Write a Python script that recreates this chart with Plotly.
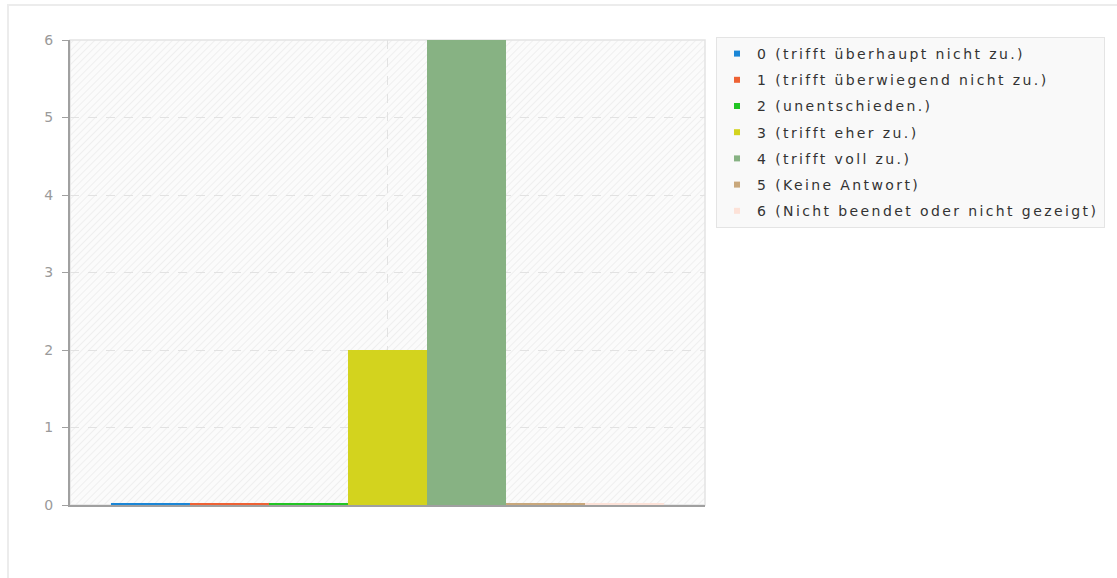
import plotly.graph_objects as go

categories = [""]
series_names = [
    "0 (trifft überhaupt nicht zu.)",
    "1 (trifft überwiegend nicht zu.)",
    "2 (unentschieden.)",
    "3 (trifft eher zu.)",
    "4 (trifft voll zu.)",
    "5 (Keine Antwort)",
    "6 (Nicht beendet oder nicht gezeigt)",
]
series_values = [0, 0, 0, 2, 6, 0, 0]
series_colors = ["#1b86d6", "#ee6234", "#22c524", "#d3d31e", "#87b283", "#c9a87c", "#fde2d8"]
y_ticks = [0, 1, 2, 3, 4, 5, 6]

fig = go.Figure()
for i, (name, val, col) in enumerate(zip(series_names, series_values, series_colors)):
    fig.add_trace(go.Bar(
        x=categories, y=[val], name=name, marker_color=col,
        marker_line_width=0, legendgroup=f"g{i}",
        hoverinfo="name+y",
    ))
# thin baseline stubs (jqPlot draws zero-height bars as a thin line)
for i, col in enumerate(series_colors):
    fig.add_trace(go.Bar(
        x=categories, y=[1], marker_color=col, marker_line_width=0,
        yaxis="y2", showlegend=False, hoverinfo="skip",
    ))

fig.update_layout(
    width=1117, height=578,
    margin=dict(l=70, r=412, t=40, b=73),
    paper_bgcolor="white",
    plot_bgcolor="#f8f8f8",
    barmode="group", bargap=0.129, bargroupgap=0,
    font=dict(family="DejaVu Sans", size=14, color="#333333"),
    showlegend=True,
    legend=dict(
        x=(716 - 70) / 635, y=1.0 + 3 / 465, xanchor="left", yanchor="top",
        bgcolor="#f9f9f9", bordercolor="#e4e4e4", borderwidth=1,
        font=dict(family="DejaVu Sans", size=13.99, color="#333333"),
        traceorder="grouped", tracegroupgap=5,
    ),
    xaxis=dict(
        showticklabels=False, ticks="",
        showgrid=True, gridcolor="#e2e2e2", griddash="dash", gridwidth=1,
        showline=True, linecolor="#a0a0a0", linewidth=2,
        layer="below traces", fixedrange=True,
    ),
    yaxis=dict(
        range=[0, 6], tickvals=y_ticks, ticktext=[str(t) for t in y_ticks],
        showgrid=True, gridcolor="#e2e2e2", griddash="dash", gridwidth=1,
        zeroline=False,
        showline=True, linecolor="#a0a0a0", linewidth=2,
        ticks="outside", ticklen=6, tickcolor="#a0a0a0", tickwidth=1,
        tickfont=dict(family="DejaVu Sans", size=14, color="#9a9a9a"),
        ticklabelstandoff=6, fixedrange=True,
    ),
    yaxis2=dict(
        overlaying="y", range=[0, 232], visible=False, fixedrange=True,
    ),
    shapes=[
        dict(type="rect", xref="paper", yref="paper", x0=0, x1=1, y0=0, y1=1,
             line=dict(color="#e3e3e3", width=1.5), fillcolor="rgba(0,0,0,0)", layer="below"),
        dict(type="rect", xref="paper", yref="paper",
             x0=(8 - 70) / 635, x1=(1130 - 70) / 635,
             y0=(505 - 590) / 465, y1=(505 - 5) / 465,
             line=dict(color="#ececec", width=2), fillcolor="rgba(0,0,0,0)", layer="below"),
    ],
)

post = """
document.body.style.margin = '0';
var st = document.createElement('style');
st.textContent = 'text.legendtext{letter-spacing:2.4px;}';
document.head.appendChild(st);
var gd = document.getElementById('{plot_id}');
function hatch(){
  var svg = gd.querySelector('svg.main-svg');
  var ns = 'http://www.w3.org/2000/svg';
  var defs = svg.querySelector('defs') || svg.insertBefore(document.createElementNS(ns,'defs'), svg.firstChild);
  if(!document.getElementById('jqhatch')){
    var pat = document.createElementNS(ns,'pattern');
    pat.setAttribute('id','jqhatch');
    pat.setAttribute('patternUnits','userSpaceOnUse');
    pat.setAttribute('width','5'); pat.setAttribute('height','5');
    pat.setAttribute('patternTransform','rotate(45)');
    var r = document.createElementNS(ns,'rect');
    r.setAttribute('width','5'); r.setAttribute('height','5'); r.setAttribute('fill','#fbfbfb');
    var l = document.createElementNS(ns,'line');
    l.setAttribute('x1','0'); l.setAttribute('y1','0'); l.setAttribute('x2','0'); l.setAttribute('y2','5');
    l.setAttribute('stroke','#ececec'); l.setAttribute('stroke-width','1.6');
    pat.appendChild(r); pat.appendChild(l); defs.appendChild(pat);
  }
  gd.querySelectorAll('.bglayer rect.bg').forEach(function(b){ b.style.fill = 'url(#jqhatch)'; });
}
Plotly.relayout(gd, {'legend.font.size': 14}).then(function(){
  gd.querySelectorAll('.legendpoints path').forEach(function(p){
    p.setAttribute('d', 'M3,3H-3V-3H3Z');
  });
  hatch();
});
"""

fig.write_html("out.html", post_script=post, config={"displayModeBar": False})
